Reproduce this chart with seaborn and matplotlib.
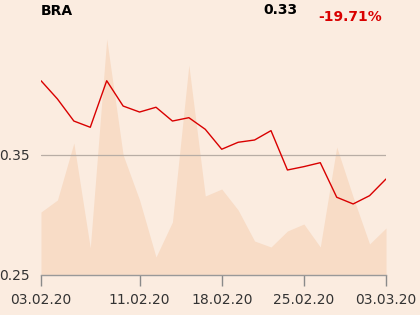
import matplotlib
matplotlib.use("Agg")
import matplotlib.pyplot as plt
import seaborn as sns
import pandas as pd
import numpy as np

dates = ["03.02.20", "04.02.20", "05.02.20", "06.02.20", "07.02.20",
         "10.02.20", "11.02.20", "12.02.20", "13.02.20", "14.02.20",
         "17.02.20", "18.02.20", "19.02.20", "20.02.20", "21.02.20",
         "24.02.20", "25.02.20", "26.02.20", "27.02.20", "28.02.20",
         "02.03.20", "03.03.20"]
price = [0.4119, 0.3967, 0.3783, 0.3731, 0.4119, 0.3908, 0.3858, 0.3898,
         0.3783, 0.3811, 0.3714, 0.3548, 0.3606, 0.3625, 0.3703, 0.3375,
         0.3403, 0.3436, 0.3148, 0.3092, 0.3161, 0.3300]
volume = [63, 75, 132, 27, 236, 120, 75, 18, 53, 210, 79, 86, 65, 34, 28,
          44, 51, 28, 128, 78, 31, 47]
tick_labels = ["03.02.20", "11.02.20", "18.02.20", "25.02.20", "03.03.20"]
y_ticks = [0.25, 0.35]
title = "BRA"
last_value = "0.33"
change = "-19.71%"

bg = "#FBECE0"
area_col = "#F8DCC6"
red = "#D90000"

sns.set_theme(style="white")
plt.rcParams['font.family'] = ['DejaVu Sans']

df = pd.DataFrame({"idx": np.arange(len(dates)), "date": dates,
                   "price": price, "volume": volume})

fig = plt.figure(figsize=(4.2, 3.15), dpi=100, facecolor=bg)
ax = fig.add_axes([41/420, 40/315, 345/420, 255/315])
ax.set_facecolor(bg)
ax2 = ax.twinx()
ax2.set_zorder(0)
ax.set_zorder(1)
ax.patch.set_visible(False)
ax2.set_facecolor(bg)

ax2.fill_between(df["idx"], 0, df["volume"], color=area_col, lw=0)
ax2.set_ylim(0, 255)
ax2.set_yticks([])
for s in ax2.spines.values():
    s.set_visible(False)

sns.lineplot(data=df, x="idx", y="price", ax=ax, color=red, lw=1.0)
ax.set_xlim(0, len(dates) - 1)
ax.set_ylim(0.25, 0.35 + 135/1200)
ax.set_xlabel("")
ax.set_ylabel("")
tick_pos = [dates.index(t) for t in tick_labels]
ax.set_xticks(tick_pos)
ax.set_xticklabels(tick_labels)
ax.set_yticks(y_ticks)
ax.set_yticklabels([f"{v:.2f}" for v in y_ticks])
ax.tick_params(axis="x", bottom=True, direction="out", length=8, width=1,
               color="#8a8a8a", labelsize=10, labelcolor="#333333", pad=5)
ax.tick_params(axis="y", left=False, length=0, labelsize=10,
               labelcolor="#333333", pad=8)
ax.axhline(0.35, color="#B8ADA5", lw=0.9, zorder=0)
for k in ["top", "right", "left"]:
    ax.spines[k].set_visible(False)
ax.spines["bottom"].set_color("#999999")
ax.spines["bottom"].set_linewidth(1)

fig.text(41/420, 1 - 11/315, title, fontsize=10, fontweight="bold",
         color="black", ha="left", va="center")
fig.text(298/420, 1 - 10/315, last_value, fontsize=10, fontweight="bold",
         color="black", ha="right", va="center")
fig.text(382/420, 1 - 17/315, change, fontsize=10, fontweight="bold",
         color=red, ha="right", va="center")

fig.savefig("out.png", dpi=100, facecolor=bg)
